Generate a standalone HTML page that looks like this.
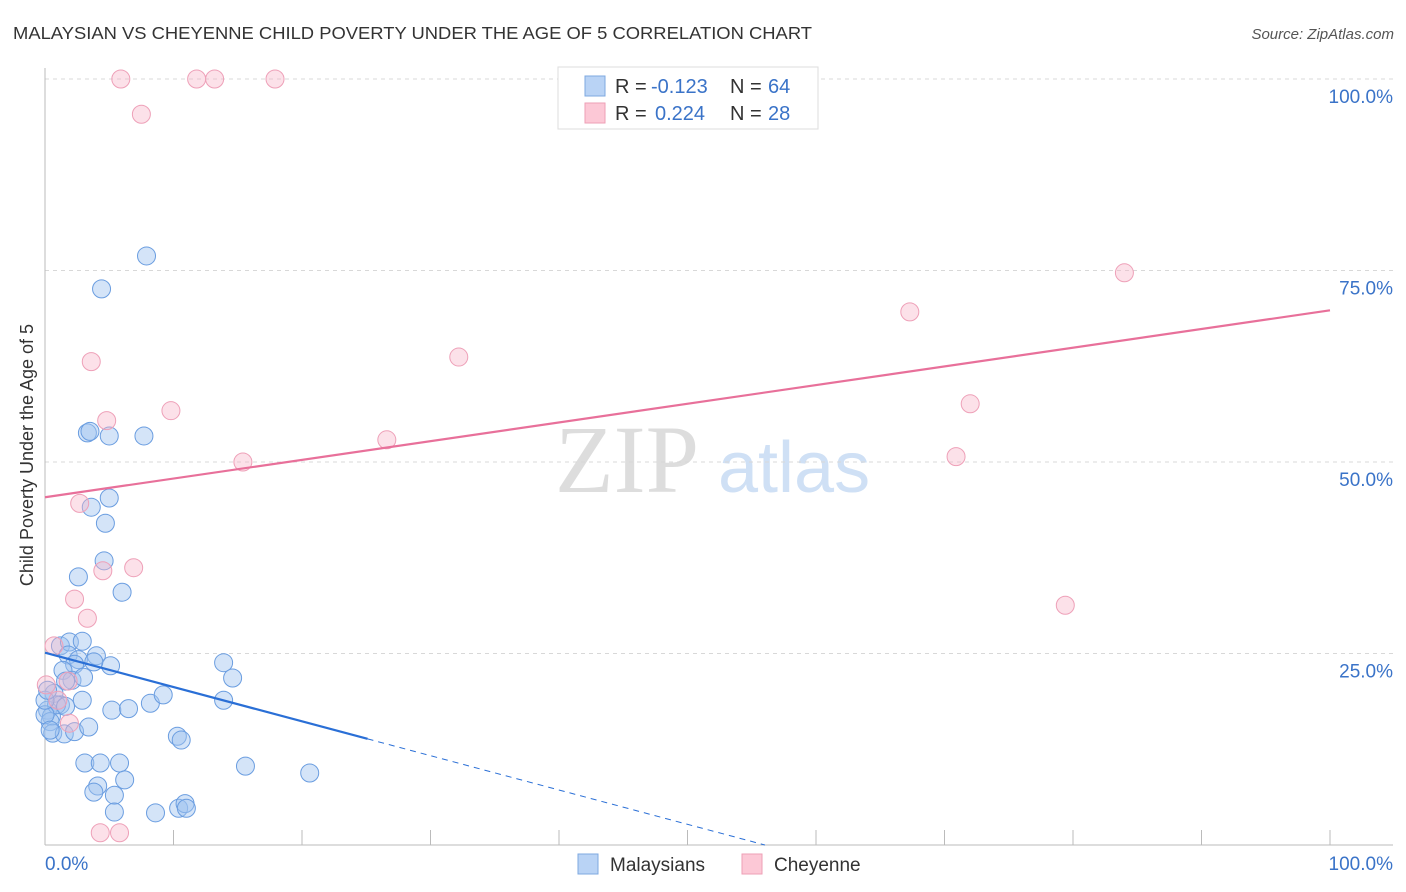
<!DOCTYPE html>
<html><head><meta charset="utf-8"><style>
body{margin:0;background:#fff;font-family:"Liberation Sans",sans-serif}
svg{display:block}
</style></head><body>
<svg id="chart" width="1406" height="892" xmlns="http://www.w3.org/2000/svg">
<text x="13" y="39" font-size="17.5" fill="#333" textLength="799" lengthAdjust="spacingAndGlyphs">MALAYSIAN VS CHEYENNE CHILD POVERTY UNDER THE AGE OF 5 CORRELATION CHART</text>
<text x="1394" y="39" font-size="15" fill="#555" text-anchor="end" font-style="italic">Source: ZipAtlas.com</text>
<g>
<text x="555" y="492" font-size="96" fill="#ddd" font-family="Liberation Serif" >ZIP</text>
<text x="718" y="492" font-size="72" fill="#cfe0f5">atlas</text>
</g>
<g id="grid"></g>
<g id="axes"></g>
<g id="marks"></g>
<g id="trends"></g>
<text transform="translate(33,455) rotate(-90)" font-size="18" fill="#333" text-anchor="middle">Child Poverty Under the Age of 5</text>
<g>
<rect x="558" y="67" width="260" height="62" fill="#fff" stroke="#ddd"/>
<rect x="585" y="76" width="20" height="20" fill="#b9d3f5" stroke="#7ea8e0"/>
<rect x="585" y="103" width="20" height="20" fill="#fcc8d6" stroke="#ee9fb6"/>
<text x="615" y="93" font-size="20" fill="#333">R = <tspan fill="#3a73c8" x="651">-0.123</tspan><tspan x="730">N = </tspan><tspan fill="#3a73c8" x="768">64</tspan></text>
<text x="615" y="120" font-size="20" fill="#333">R = <tspan fill="#3a73c8" x="655">0.224</tspan><tspan x="730">N = </tspan><tspan fill="#3a73c8" x="768">28</tspan></text>
</g>
<g>
<rect x="578" y="854" width="20" height="20" fill="#b9d3f5" stroke="#7ea8e0"/>
<text x="610" y="871" font-size="19" fill="#333">Malaysians</text>
<rect x="742" y="854" width="20" height="20" fill="#fcc8d6" stroke="#ee9fb6"/>
<text x="774" y="871" font-size="19" fill="#333">Cheyenne</text>
</g>
</svg>
<script>
const blueX=[7.9,4.4,3.3,3.5,5.0,7.7,5.0,3.6,4.7,4.6,2.6,6.0,1.2,1.9,2.9,1.8,4.0,2.6,2.3,5.1,1.4,3.8,2.1,1.6,3.0,2.9,0.7,1.2,0.2,0.5,0.9,1.6,0.4,0.6,1.5,2.3,3.4,5.2,6.5,8.2,9.2,13.9,14.6,13.9,10.3,10.6,15.6,20.6,3.1,4.3,5.8,4.1,3.8,5.4,6.2,5.4,8.6,10.4,10.9,11.0,0.0,0.0,0.2,0.4];
const blueY=[76.9,72.6,53.8,54.0,53.4,53.4,45.3,44.1,42.0,37.1,35.0,33.0,26.0,26.5,26.6,24.8,24.7,24.2,23.6,23.4,22.8,23.9,21.5,21.4,21.9,18.9,19.8,18.3,17.6,16.8,18.3,18.1,16.1,14.6,14.5,14.8,15.4,17.6,17.8,18.5,19.6,23.8,21.8,18.9,14.2,13.7,10.3,9.4,10.7,10.7,10.7,7.7,6.9,6.5,8.5,4.3,4.2,4.8,5.4,4.8,17.0,18.9,20.2,15.0];
const pinkX=[5.9,11.8,13.2,17.9,7.5,84.0,67.3,32.2,3.6,4.8,9.8,26.6,15.4,72.0,70.9,2.7,4.5,6.9,2.3,3.3,79.4,0.7,0.1,1.8,1.0,1.9,4.3,5.8];
const pinkY=[100,100,100,100,95.4,74.7,69.6,63.7,63.1,55.4,56.7,52.9,50.0,57.6,50.7,44.6,35.8,36.2,32.1,29.6,31.3,26.0,20.9,21.4,18.9,15.9,1.6,1.6];
const yTicks=[25,50,75,100];
const yTickLabels=["25.0%","50.0%","75.0%","100.0%"];
const blueTrend=[25.1,-0.448];
const pinkTrend=[45.4,0.244];
const NS="http://www.w3.org/2000/svg";
const sx=v=>45+v*12.85, sy=v=>845-v*7.66;
function mk(tag,attrs,parent){const e=document.createElementNS(NS,tag);for(const k in attrs)e.setAttribute(k,attrs[k]);document.getElementById(parent).appendChild(e);return e;}
yTicks.forEach((t,i)=>{
 const g=mk('line',{x1:45,x2:1393,y1:sy(t),y2:sy(t),stroke:'#d8d8d8','stroke-dasharray':'4,4'},'grid');
 
 
 const l=mk('text',{x:1393,y:sy(t)+24,'font-size':19,fill:'#3a73c8','text-anchor':'end'},'grid');
 l.textContent=yTickLabels[i];
 
 
});
mk('line',{x1:45,x2:45,y1:68,y2:845,stroke:'#bbb'},'axes');
mk('line',{x1:45,x2:1393,y1:845,y2:845,stroke:'#bbb'},'axes');
for(let i=1;i<=10;i++){mk('line',{x1:sx(i*10),x2:sx(i*10),y1:830,y2:845,stroke:'#bbb'},'axes');}
const x0=mk('text',{x:45,y:870,'font-size':19,fill:'#3a73c8'},'axes');x0.textContent='0.0%';


const x1=mk('text',{x:1393,y:870,'font-size':19,fill:'#3a73c8','text-anchor':'end'},'axes');x1.textContent='100.0%';


blueX.forEach((v,i)=>{const c=mk('circle',{cx:sx(v),cy:sy(blueY[i]),r:9,fill:'rgba(160,196,240,0.45)',stroke:'#6a9de0','stroke-width':1},'marks');
 
 });
pinkX.forEach((v,i)=>{const c=mk('circle',{cx:sx(v),cy:sy(pinkY[i]),r:9,fill:'rgba(248,180,200,0.4)',stroke:'#eea0b8','stroke-width':1},'marks');
 
 });
const pt=mk('line',{x1:sx(0),y1:sy(pinkTrend[0]),x2:sx(100),y2:sy(pinkTrend[0]+pinkTrend[1]*100),stroke:'#e8709a','stroke-width':2.2},'trends');


const xs=25.1, xe=-blueTrend[0]/blueTrend[1];
const bt=mk('line',{x1:sx(0),y1:sy(blueTrend[0]),x2:sx(xs),y2:sy(blueTrend[0]+blueTrend[1]*xs),stroke:'#2a6fd6','stroke-width':2.2},'trends');


const bd=mk('line',{x1:sx(xs),y1:sy(blueTrend[0]+blueTrend[1]*xs),x2:sx(xe),y2:sy(0),stroke:'#2a6fd6','stroke-width':1,'stroke-dasharray':'6,5'},'trends');


</script>
</body></html>
